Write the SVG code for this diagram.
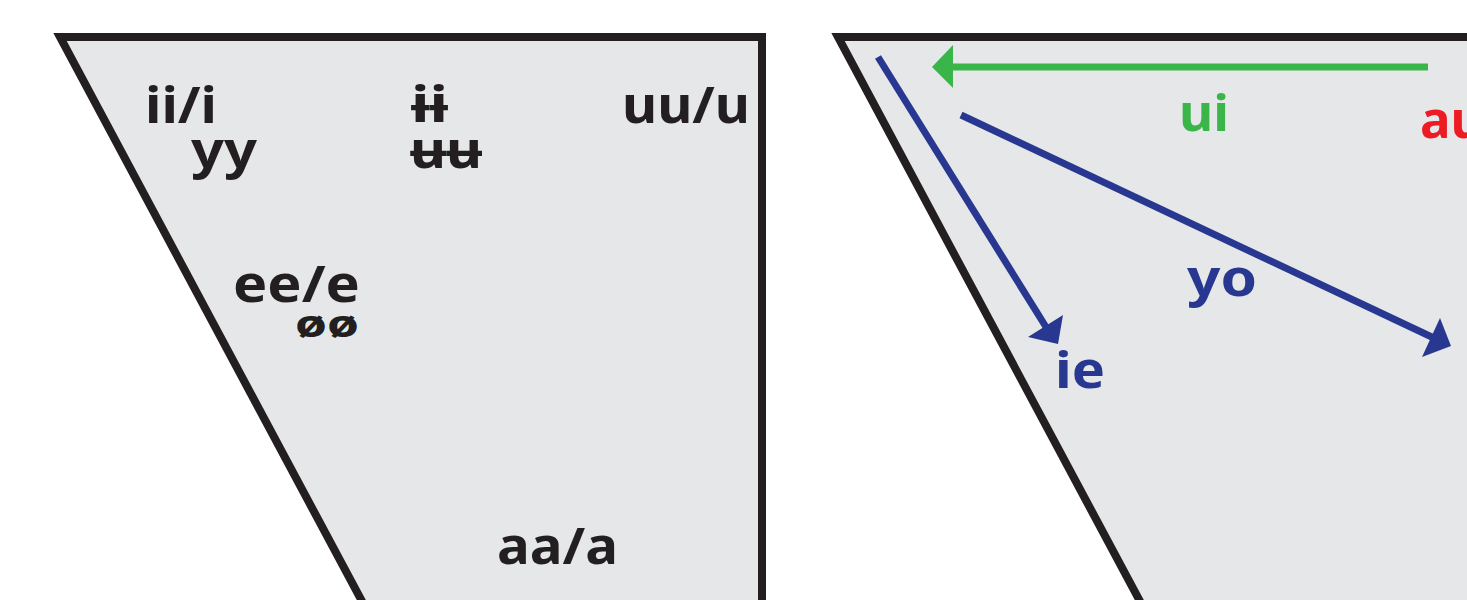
<svg xmlns="http://www.w3.org/2000/svg" width="1467" height="600" viewBox="0 0 1467 600">
<defs>
<style>
.panel{fill:#e6e7e8;stroke:#231f20;stroke-width:8;stroke-linejoin:miter}
.t{font-family:"Noto Sans","DejaVu Sans",sans-serif;font-weight:700;font-size:51px;fill:#231f20}
.s{font-size:38px}
.blue{fill:#283891}
.green{fill:#39b54a}
.red{fill:#ed1c24}
.lb{stroke:#283891;stroke-width:7;fill:none}
.lg{stroke:#39b54a;stroke-width:7;fill:none}
</style>
</defs>
<rect width="1467" height="600" fill="#ffffff"/>
<g id="panel-left">
<polygon class="panel" points="60,37 762,37 762,620 372,620"/>
</g>
<g id="panel-right">
<polygon class="panel" points="838,37 1480,37 1480,620 1150,620"/>
</g>
<g id="vowels-left">
<text id="ii-i" class="t" x="145" y="123" textLength="72" lengthAdjust="spacingAndGlyphs">ii/i</text>
<text id="yy" class="t" x="191" y="168" textLength="66" lengthAdjust="spacingAndGlyphs">yy</text>
<text id="ii-bar" class="t" x="411" y="122" textLength="37" lengthAdjust="spacingAndGlyphs">ɨɨ</text>
<text id="uu-bar" class="t" x="410" y="168" textLength="72" lengthAdjust="spacingAndGlyphs">ʉʉ</text>
<text id="uu-u" class="t" x="622" y="123" textLength="128" lengthAdjust="spacingAndGlyphs">uu/u</text>
<text id="ee-e" class="t" x="233" y="302" textLength="127" lengthAdjust="spacingAndGlyphs">ee/e</text>
<text id="oo-slash" class="t s" x="295" y="337" textLength="64" lengthAdjust="spacingAndGlyphs">øø</text>
<text id="aa-a" class="t" x="497" y="564" textLength="121" lengthAdjust="spacingAndGlyphs">aa/a</text>
</g>
<g id="connectors">
<line class="lg" x1="1428" y1="67" x2="950" y2="67"/>
<polygon class="green" points="932,67 953,45 953,88"/>
<line class="lb" x1="878" y1="57" x2="1046" y2="327"/>
<polygon class="blue" points="1058,344 1028,337 1063,315"/>
<line class="lb" x1="961" y1="115" x2="1436" y2="339"/>
<polygon class="blue" points="1451,346 1440,318 1422,357"/>
</g>
<g id="labels-right">
<text id="ui" class="t green" x="1179" y="131" textLength="50" lengthAdjust="spacingAndGlyphs">ui</text>
<text id="au" class="t red" x="1420" y="138">au</text>
<text id="yo" class="t blue" x="1187" y="296" textLength="70" lengthAdjust="spacingAndGlyphs">yo</text>
<text id="ie" class="t blue" x="1055" y="388" textLength="50" lengthAdjust="spacingAndGlyphs">ie</text>
</g>
</svg>
